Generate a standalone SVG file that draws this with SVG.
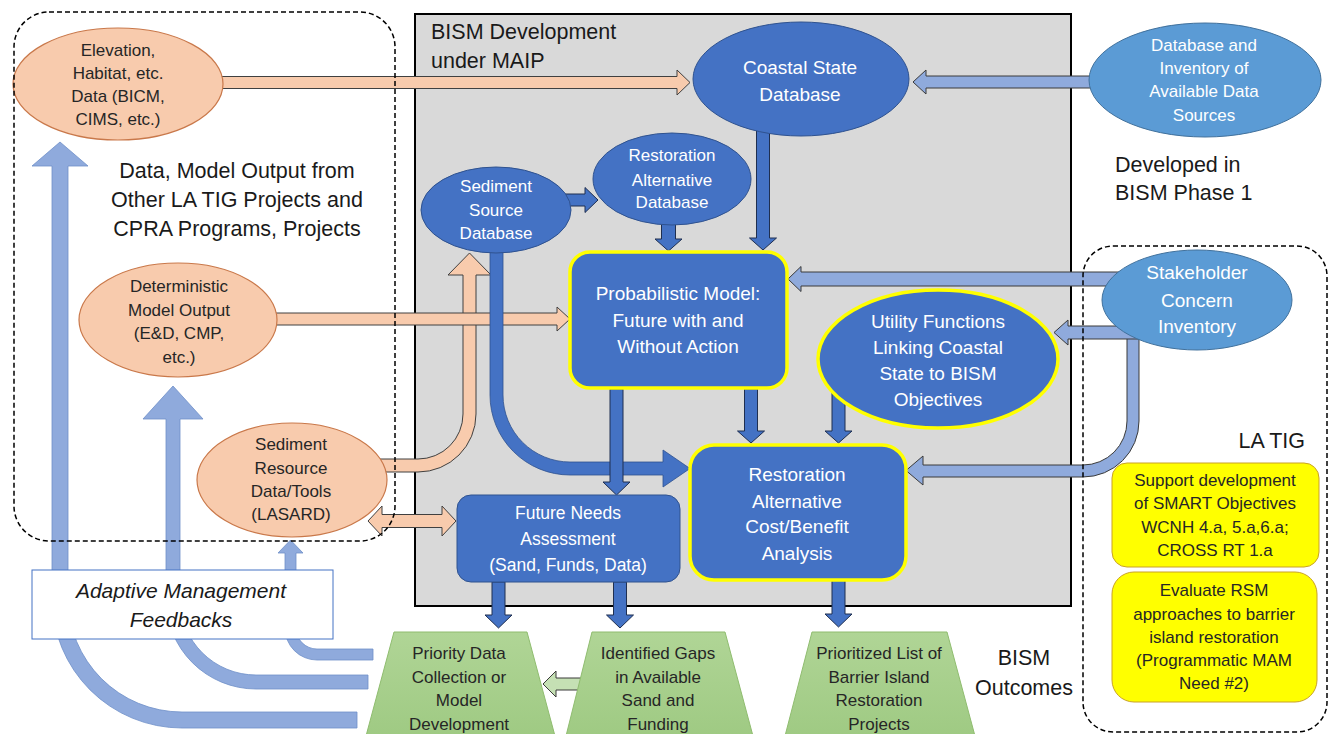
<svg xmlns="http://www.w3.org/2000/svg" width="1334" height="734" viewBox="0 0 1334 734">
<defs>
<linearGradient id="grn" x1="0" y1="0" x2="0" y2="1">
<stop offset="0" stop-color="#b0d596"/>
<stop offset="1" stop-color="#9fca83"/>
</linearGradient>
<style>
text{font-family:"Liberation Sans",Arial,sans-serif;text-anchor:middle}
.w{fill:#ffffff}
.k{fill:#262626}
.big{font-size:21.5px;fill:#1a1a1a}
.n19{font-size:19px}
.n17{font-size:17px}
.peach{fill:#f8cbad;stroke:#c9784a;stroke-width:1.2}
.dk{fill:#4472c4;stroke:#2f528f;stroke-width:1}
.md{fill:#5b9bd5;stroke:#41719c;stroke-width:1}
.yb{fill:#4472c4;stroke:#ffff00;stroke-width:3.5}
.ybox{fill:#ffff00;stroke:#c9a227;stroke-width:1}
.trap{fill:url(#grn);stroke:#8fbc6f;stroke-width:1}
.ap{fill:#f8cbad;stroke:#404040;stroke-width:1}
.ab{fill:#4472c4;stroke:#1f2f50;stroke-width:1}
.abc{fill:#4472c4;stroke:#2f528f;stroke-width:0.8}
.al{fill:#8faadc;stroke:#3a3a3a;stroke-width:1}
.fb{fill:#8faadc;stroke:#6f8fc8;stroke-width:0.8}
.ag{fill:#c5e0b4;stroke:#3a3a3a;stroke-width:1}
.dash{fill:none;stroke:#000;stroke-width:1.5;stroke-dasharray:5 3}
</style>
</defs>
<rect width="1334" height="734" fill="#ffffff"/>
<g id="bism-dev-area">
<rect x="415" y="14" width="656" height="592" fill="#d9d9d9" stroke="#000" stroke-width="2"/>
<text class="big" x="431" y="39" style="text-anchor:start">BISM Development</text>
<text class="big" x="431" y="68" style="text-anchor:start">under MAIP</text>
</g>
<g id="feedback-arrows">
<path class="fb" d="M357,712 L182,712 A114,114 0 0 1 68,598 L68,166 L88,166 L60,142 L32,166 L52,166 L52,598 A130,130 0 0 0 182,728 L357,728 Z"/>
<path class="fb" d="M368,675 L256,675 A76,76 0 0 1 180,599 L180,419 L203,419 L173,386 L143,419 L166,419 L166,599 A90,90 0 0 0 256,689 L368,689 Z"/>
<path class="fb" d="M373,649 L317,649 A21,21 0 0 1 296,628 L296,553 L303,553 L290.5,540 L278,553 L285,553 L285,628 A32,32 0 0 0 317,660 L373,660 Z"/>
</g>
<g id="adaptive-management">
<rect x="32" y="570" width="301" height="69" fill="#ffffff" stroke="#4472c4" stroke-width="1"/>
<text x="181" y="598" style="font-size:21px;font-style:italic;fill:#1a1a1a">Adaptive Management</text>
<text x="181" y="627" style="font-size:21px;font-style:italic;fill:#1a1a1a">Feedbacks</text>
</g>
<g id="connectors">
<path class="ap" d="M210,76.5 L677,76.5 L677,70 L690,82.5 L677,95 L677,88.5 L210,88.5 Z"/>
<path class="al" d="M1100,76 L926,76 L926,70 L913,82 L926,94 L926,88 L1100,88 Z"/>
<path class="ab" d="M560,194 L585,194 L585,187.5 L598,200 L585,212.5 L585,206 L560,206 Z"/>
<path class="ab" d="M661.5,215 L661.5,239 L655,239 L668.5,251 L682,239 L675.5,239 L675.5,215 Z"/>
<path class="ab" d="M756.5,130 L756.5,238 L749.5,238 L763,250 L776.5,238 L769.5,238 L769.5,130 Z"/>
<path class="al" d="M1120,272 L801,272 L801,266.5 L788,279 L801,291.5 L801,286 L1120,286 Z"/>
<path class="al" d="M1127,338 L1139,338 L1139,421 A56,56 0 0 1 1083,477 L923,477 L923,485 L906,470.5 L923,456 L923,465 L1083,465 A44,44 0 0 0 1127,421 Z"/>
<path class="al" d="M1140,326 L1068,326 L1068,320 L1054,332.5 L1068,345 L1068,339 L1140,339 Z"/>
<path class="ap" d="M370,459 L418,459 A45,45 0 0 0 463,414 L463,275 L448,275 L469.5,253 L491,275 L476,275 L476,414 A58,58 0 0 1 418,472 L370,472 Z"/>
<path class="ap" d="M265,313 L557,313 L557,307 L570,319 L557,331 L557,325 L265,325 Z"/>
<path class="abc" d="M490,240 L503,240 L503,395 A67,67 0 0 0 570,462 L663,462 L663,450 L690,468.5 L663,487 L663,475 L570,475 A80,80 0 0 1 490,395 Z"/>
<path class="ab" d="M744.5,389 L744.5,431 L737.5,431 L751,443 L764.5,431 L757.5,431 L757.5,389 Z"/>
<path class="ab" d="M832,385 L832,431 L825,431 L838.5,443 L852,431 L845,431 L845,385 Z"/>
<path class="ab" d="M610,389 L610,482 L603,482 L616.5,495 L630,482 L623,482 L623,389 Z"/>
<path class="ap" d="M368,521 L382,506 L382,514.5 L442,514.5 L442,506 L456,521 L442,536 L442,527.5 L382,527.5 L382,536 Z"/>
<path class="ab" d="M492,582 L492,615 L485,615 L498.5,628 L512,615 L505,615 L505,582 Z"/>
<path class="ab" d="M613.5,582 L613.5,615 L606.5,615 L620,628 L633.5,615 L626.5,615 L626.5,582 Z"/>
<path class="ab" d="M832,580 L832,614 L825,614 L838.5,627 L852,614 L845,614 L845,580 Z"/>
<path class="ag" d="M585,678 L556,678 L556,671 L543,684 L556,697 L556,690 L585,690 Z"/>
</g>
<g id="elevation-data">
<ellipse class="peach" cx="118" cy="84" rx="105" ry="56"/>
<text class="n17 k" x="118" y="56">Elevation,</text>
<text class="n17 k" x="118" y="79">Habitat, etc.</text>
<text class="n17 k" x="118" y="102">Data (BICM,</text>
<text class="n17 k" x="118" y="125">CIMS, etc.)</text>
</g>
<g id="other-data-label">
<text class="big" x="237" y="178">Data, Model Output from</text>
<text class="big" x="237" y="207">Other LA TIG Projects and</text>
<text class="big" x="237" y="236">CPRA Programs, Projects</text>
</g>
<g id="deterministic-model">
<ellipse class="peach" cx="178" cy="320" rx="99" ry="57"/>
<text class="n17 k" x="179" y="292">Deterministic</text>
<text class="n17 k" x="179" y="316">Model Output</text>
<text class="n17 k" x="179" y="339">(E&amp;D, CMP,</text>
<text class="n17 k" x="179" y="363">etc.)</text>
</g>
<g id="sediment-resource">
<ellipse class="peach" cx="292" cy="480" rx="95" ry="57"/>
<text class="n17 k" x="291" y="450">Sediment</text>
<text class="n17 k" x="291" y="474">Resource</text>
<text class="n17 k" x="291" y="497">Data/Tools</text>
<text class="n17 k" x="291" y="520">(LASARD)</text>
</g>
<g id="coastal-state-db">
<ellipse class="dk" cx="801" cy="79" rx="108" ry="57"/>
<text class="n19 w" x="800" y="74">Coastal State</text>
<text class="n19 w" x="800" y="101">Database</text>
</g>
<g id="data-inventory">
<ellipse class="md" cx="1205" cy="80" rx="116" ry="57"/>
<text class="n17 w" x="1204" y="51">Database and</text>
<text class="n17 w" x="1204" y="74">Inventory of</text>
<text class="n17 w" x="1204" y="97">Available Data</text>
<text class="n17 w" x="1204" y="121">Sources</text>
</g>
<g id="phase1-label">
<text class="big" x="1115" y="172" style="text-anchor:start">Developed in</text>
<text class="big" x="1115" y="200" style="text-anchor:start">BISM Phase 1</text>
</g>
<g id="restoration-alt-db">
<ellipse class="dk" cx="672" cy="179" rx="79" ry="46"/>
<text class="n17 w" x="672" y="161">Restoration</text>
<text class="n17 w" x="672" y="186">Alternative</text>
<text class="n17 w" x="672" y="208">Database</text>
</g>
<g id="sediment-source-db">
<ellipse class="dk" cx="496" cy="210" rx="75" ry="43"/>
<text class="n17 w" x="496" y="192">Sediment</text>
<text class="n17 w" x="496" y="216">Source</text>
<text class="n17 w" x="496" y="239">Database</text>
</g>
<g id="probabilistic-model">
<rect class="yb" x="570" y="252" width="217" height="136" rx="20"/>
<text class="n19 w" x="678" y="300">Probabilistic Model:</text>
<text class="n19 w" x="678" y="327">Future with and</text>
<text class="n19 w" x="678" y="353">Without Action</text>
</g>
<g id="stakeholder-inventory">
<ellipse class="md" cx="1197" cy="300" rx="95" ry="50"/>
<text class="n19 w" x="1197" y="279">Stakeholder</text>
<text class="n19 w" x="1197" y="307">Concern</text>
<text class="n19 w" x="1197" y="333">Inventory</text>
</g>
<g id="utility-functions">
<ellipse class="yb" cx="938" cy="359" rx="120" ry="69"/>
<text class="n19 w" x="938" y="328">Utility Functions</text>
<text class="n19 w" x="938" y="354">Linking Coastal</text>
<text class="n19 w" x="938" y="380">State to BISM</text>
<text class="n19 w" x="938" y="406">Objectives</text>
</g>
<g id="cost-benefit">
<rect class="yb" x="690" y="445" width="216" height="135" rx="24"/>
<text class="n19 w" x="797" y="481">Restoration</text>
<text class="n19 w" x="797" y="508">Alternative</text>
<text class="n19 w" x="797" y="533">Cost/Benefit</text>
<text class="n19 w" x="797" y="560">Analysis</text>
</g>
<g id="future-needs">
<rect class="dk" x="457" y="495" width="223" height="87" rx="14"/>
<text class="w" style="font-size:17.5px" x="568" y="519">Future Needs</text>
<text class="w" style="font-size:17.5px" x="568" y="545">Assessment</text>
<text class="w" style="font-size:17.5px" x="568" y="571">(Sand, Funds, Data)</text>
</g>
<g id="priority-data">
<path class="trap" d="M394,632 L527,632 L555,736 L366,736 Z"/>
<text class="n17 k" x="459" y="659">Priority Data</text>
<text class="n17 k" x="459" y="683">Collection or</text>
<text class="n17 k" x="459" y="706">Model</text>
<text class="n17 k" x="459" y="730">Development</text>
</g>
<g id="identified-gaps">
<path class="trap" d="M592,632 L725,632 L753,736 L566,736 Z"/>
<text class="n17 k" x="658" y="659">Identified Gaps</text>
<text class="n17 k" x="658" y="683">in Available</text>
<text class="n17 k" x="658" y="706">Sand and</text>
<text class="n17 k" x="658" y="730">Funding</text>
</g>
<g id="prioritized-list">
<path class="trap" d="M812,632 L947,632 L975,736 L785,736 Z"/>
<text class="n17 k" x="879" y="659">Prioritized List of</text>
<text class="n17 k" x="879" y="683">Barrier Island</text>
<text class="n17 k" x="879" y="706">Restoration</text>
<text class="n17 k" x="879" y="730">Projects</text>
</g>
<g id="outcomes-label">
<text class="big" x="1024" y="665">BISM</text>
<text class="big" x="1024" y="695">Outcomes</text>
</g>
<g id="la-tig">
<text class="big" x="1305" y="448" style="text-anchor:end">LA TIG</text>
<rect class="ybox" x="1112" y="463" width="207" height="104" rx="15"/>
<text class="n17 k" x="1215" y="486">Support development</text>
<text class="n17 k" x="1215" y="509">of SMART Objectives</text>
<text class="n17 k" x="1215" y="533">WCNH 4.a, 5.a,6.a;</text>
<text class="n17 k" x="1215" y="556">CROSS RT 1.a</text>
<rect class="ybox" x="1112" y="572" width="205" height="130" rx="22"/>
<text class="n17 k" x="1214" y="596">Evaluate RSM</text>
<text class="n17 k" x="1214" y="620">approaches to barrier</text>
<text class="n17 k" x="1214" y="643">island restoration</text>
<text class="n17 k" x="1214" y="666">(Programmatic MAM</text>
<text class="n17 k" x="1214" y="689">Need #2)</text>
</g>
<g id="group-boundaries">
<rect class="dash" x="14" y="12" width="381" height="529" rx="35"/>
<rect class="dash" x="1083" y="246" width="244" height="486" rx="30"/>
</g>
</svg>
